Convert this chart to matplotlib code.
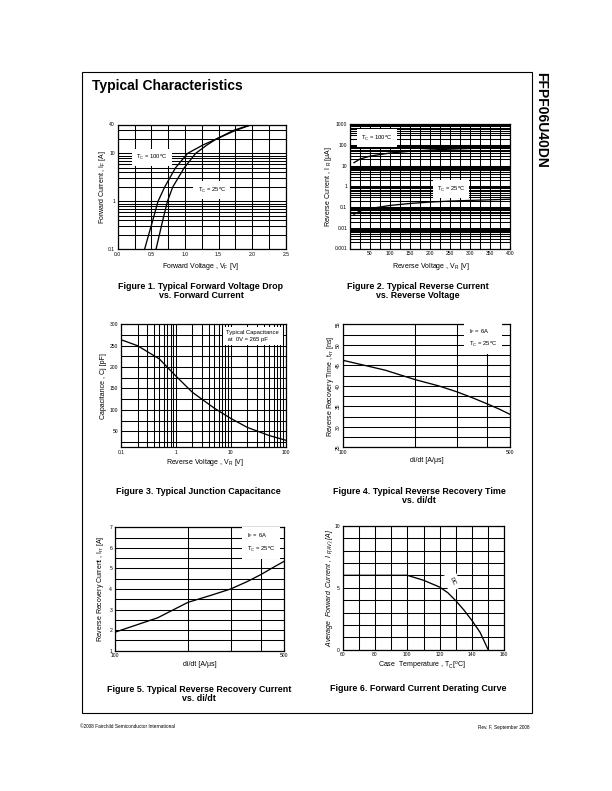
import matplotlib
matplotlib.use('Agg')
import matplotlib.pyplot as plt
from matplotlib.ticker import FixedLocator, MultipleLocator, NullFormatter, LogLocator
from matplotlib.patches import Rectangle

plt.rcParams['font.family'] = ['Liberation Sans', 'DejaVu Sans']
plt.rcParams['mathtext.fontset'] = 'custom'
plt.rcParams['mathtext.rm'] = 'Liberation Sans'
plt.rcParams['mathtext.it'] = 'Liberation Sans:italic'
plt.rcParams['mathtext.bf'] = 'Liberation Sans:bold'
plt.rcParams['mathtext.default'] = 'regular'

# ---------------- data ----------------
# Figure 1: forward voltage vs forward current
fig1_if = [0.1, 0.2, 0.35, 1, 2, 5, 10, 15, 20, 30, 40]
fig1_vf_100 = [0.40, 0.46, 0.51, 0.60, 0.70, 0.86, 1.04, 1.27, 1.47, 1.75, 2.00]
fig1_vf_25 = [0.57, 0.62, 0.66, 0.74, 0.82, 0.99, 1.16, 1.33, 1.47, 1.72, 1.99]
fig1_xticks = [0.0, 0.5, 1.0, 1.5, 2.0, 2.5]
fig1_yticks = [0.1, 1, 10, 40]

# Figure 2: reverse current vs reverse voltage
fig2_vr = [10, 25, 50, 100, 150, 200, 250, 300, 350, 400]
fig2_ir_100 = [14, 21, 29, 41, 50, 57, 63, 68, 73, 78]
fig2_ir_25 = [0.045, 0.065, 0.085, 0.12, 0.15, 0.175, 0.195, 0.21, 0.225, 0.24]
fig2_xticks = [50, 100, 150, 200, 250, 300, 350, 400]
fig2_yticks = [0.001, 0.01, 0.1, 1, 10, 100, 1000]

# Figure 3: junction capacitance
fig3_vr = [0.1, 0.2, 0.5, 1, 2, 5, 10, 20, 50, 100]
fig3_cj = [264, 250, 219, 179, 141, 104, 80, 59, 40, 29]
fig3_xticks = [0.1, 1, 10, 100]
fig3_yticks = [50, 100, 150, 200, 250, 300]

# Figure 4: reverse recovery time vs di/dt
fig4_didt = [100, 150, 200, 250, 300, 350, 400, 450, 500]
fig4_trr = [46.2, 43.8, 41.5, 40.0, 38.5, 37.0, 35.6, 34.3, 33.0]
fig4_yticks = [25, 30, 35, 40, 45, 50, 55]

# Figure 5: reverse recovery current vs di/dt
fig5_didt = [100, 150, 200, 250, 300, 350, 400, 450, 500]
fig5_irr = [1.9, 2.6, 3.35, 3.7, 4.0, 4.35, 4.7, 5.05, 5.35]
fig5_yticks = [1, 2, 3, 4, 5, 6, 7]

# Figure 6: forward current derating
fig6_tc = [60, 100, 110, 120, 125, 130, 135, 140, 145, 150]
fig6_if = [6, 6, 5.6, 5.05, 4.6, 3.95, 3.2, 2.35, 1.4, 0]
fig6_xticks = [60, 80, 100, 120, 140, 160]
fig6_yticks = [0, 5, 10]

didt_ticks = [100, 500]
didt_grid = [200, 300, 400]

# ---------------- layout helpers ----------------
W, H = 612, 791
fig = plt.figure(figsize=(W / 100, H / 100), dpi=100)


def fx(x):
    return x / W


def fy(y):
    return 1 - y / H


def add_ax(l, t, r, b):
    return fig.add_axes([l / W, 1 - b / H, (r - l) / W, (b - t) / H])


GLW = 0.75
CLW = 0.95
TICK_FS = 3.6
LAB_FS = 5.0
CAP_FS = 6.4
ANN_FS = 4.2


def style(ax):
    ax.grid(which='both', color='black', linewidth=GLW)
    ax.tick_params(which='both', length=0, pad=2, labelsize=TICK_FS)
    ax.tick_params(which='minor', labelbottom=False, labelleft=False)
    for s in ax.spines.values():
        s.set_linewidth(0.9)
    ax.xaxis.set_minor_formatter(NullFormatter())
    ax.yaxis.set_minor_formatter(NullFormatter())


def ann(ax, x, y, s, ha='center', ls=1.2, rot=0, pad=0.5):
    ax.text(x, y, s, transform=ax.transAxes, ha=ha, va='center', fontsize=ANN_FS,
            linespacing=ls, rotation=rot, zorder=6,
            bbox=dict(facecolor='white', edgecolor='none', boxstyle='square,pad=%g' % pad))


# page frame
fig.add_artist(Rectangle((fx(81.5), fy(713)), (532 - 81.5) / W, (713 - 71.5) / H,
                         transform=fig.transFigure, fill=False, edgecolor='black', linewidth=0.8))
fig.text(fx(91.5), fy(86), 'Typical Characteristics', fontsize=10, fontweight='bold',
         ha='left', va='center')
fig.text(fx(541), fy(71.5), 'FFPF06U40DN', fontsize=10, fontweight='bold',
         rotation=-90, ha='center', va='top')

# ---------------- Figure 1 ----------------
ax1 = add_ax(117.7, 124.5, 285.7, 249.3)
ax1.set_yscale('log')
ax1.set_xlim(0, 2.5)
ax1.set_ylim(0.1, 40)
ax1.xaxis.set_major_locator(FixedLocator(fig1_xticks))
ax1.xaxis.set_minor_locator(MultipleLocator(0.25))
ax1.set_xticklabels(['%.1f' % v for v in fig1_xticks])
ax1.yaxis.set_major_locator(FixedLocator(fig1_yticks))
ax1.set_yticklabels(['0.1', '1', '10', '40'])
ax1.yaxis.set_minor_locator(LogLocator(base=10, subs=range(2, 10), numticks=20))
style(ax1)
ax1.plot(fig1_vf_100, fig1_if, color='black', lw=CLW)
ax1.plot(fig1_vf_25, fig1_if, color='black', lw=CLW)
ann(ax1, 0.202, 0.734, 'T$_C$ = 100$^o$C', pad=0.7)
ann(ax1, 0.56, 0.475, 'T$_C$ = 25$^o$C', pad=0.7)
fig.text(fx(201), fy(266), 'Forward Voltage , V$_F$ [V]', fontsize=LAB_FS, ha='center', va='center')
fig.text(fx(102), fy(187), 'Forward Current , I$_F$ [A]', fontsize=LAB_FS, ha='center', va='center',
         rotation=90)

# ---------------- Figure 2 ----------------
ax2 = add_ax(350, 124.3, 510, 248.5)
ax2.set_yscale('log')
ax2.set_xlim(0, 400)
ax2.set_ylim(0.001, 1000)
ax2.xaxis.set_major_locator(FixedLocator(fig2_xticks))
ax2.xaxis.set_minor_locator(MultipleLocator(25))
ax2.set_xticklabels([str(v) for v in fig2_xticks])
ax2.yaxis.set_major_locator(FixedLocator(fig2_yticks))
ax2.set_yticklabels(['0.001', '0.01', '0.1', '1', '10', '100', '1000'])
ax2.yaxis.set_minor_locator(LogLocator(base=10, subs=range(2, 10), numticks=30))
style(ax2)
ax2.plot(fig2_vr, fig2_ir_100, color='black', lw=CLW)
ax2.plot(fig2_vr, fig2_ir_25, color='black', lw=CLW)
ann(ax2, 0.169, 0.89, 'T$_C$ = 100$^o$C', pad=0.7)
ann(ax2, 0.631, 0.479, 'T$_C$ = 25$^o$C', pad=0.7)
fig.text(fx(431), fy(266), 'Reverse Voltage , V$_R$ [V]', fontsize=LAB_FS, ha='center', va='center')
fig.text(fx(329), fy(187), 'Reverse Current , I $_R$ [\u03bcA]', fontsize=LAB_FS, ha='center',
         va='center', rotation=90)

# ---------------- Figure 3 ----------------
ax3 = add_ax(121, 324.3, 285.7, 447.3)
ax3.set_xscale('log')
ax3.set_xlim(0.1, 100)
ax3.set_ylim(12.5, 300)
ax3.xaxis.set_major_locator(FixedLocator(fig3_xticks))
ax3.set_xticklabels(['0.1', '1', '10', '100'])
ax3.xaxis.set_minor_locator(LogLocator(base=10, subs=range(2, 10), numticks=20))
ax3.yaxis.set_major_locator(FixedLocator(fig3_yticks))
ax3.set_yticklabels([str(v) for v in fig3_yticks])
ax3.yaxis.set_minor_locator(MultipleLocator(25))
style(ax3)
ax3.plot(fig3_vr, fig3_cj, color='black', lw=CLW)
ann(ax3, 0.64, 0.905, 'Typical Capacitance\n at  0V = 265 pF', ha='left', ls=1.3, pad=0.6)
fig.text(fx(205), fy(463), 'Reverse Voltage , V$_R$ [V]', fontsize=LAB_FS, ha='center', va='center')
fig.text(fx(103), fy(386), 'Capacitance , Cj [pF]', fontsize=LAB_FS, ha='center', va='center',
         rotation=90)

# ---------------- Figure 4 ----------------
ax4 = add_ax(343.3, 324.3, 510.3, 447.3)
ax4.set_xscale('log')
ax4.set_xlim(100, 500)
ax4.set_ylim(25, 55)
ax4.xaxis.set_major_locator(FixedLocator(didt_ticks))
ax4.set_xticklabels([str(v) for v in didt_ticks])
ax4.xaxis.set_minor_locator(FixedLocator(didt_grid))
ax4.yaxis.set_major_locator(FixedLocator(fig4_yticks))
ax4.set_yticklabels([str(v) for v in fig4_yticks], rotation=90, va='center')
ax4.yaxis.set_minor_locator(MultipleLocator(2.5))
style(ax4)
ax4.plot(fig4_didt, fig4_trr, color='black', lw=CLW)
ann(ax4, 0.75, 0.889, 'I$_F$ = 6A\nT$_C$ = 25$^o$C', ha='left', ls=1.7, pad=0.8)
fig.text(fx(427), fy(461), 'di/dt [A/\u03bcs]', fontsize=LAB_FS, ha='center', va='center')
fig.text(fx(330), fy(386), 'Reverse Recovery Time , t$_{rr}$ [ns]', fontsize=LAB_FS, ha='center',
         va='center', rotation=90)

# ---------------- Figure 5 ----------------
ax5 = add_ax(115, 527.3, 284.3, 650.7)
ax5.set_xscale('log')
ax5.set_xlim(100, 500)
ax5.set_ylim(1, 7)
ax5.xaxis.set_major_locator(FixedLocator(didt_ticks))
ax5.set_xticklabels([str(v) for v in didt_ticks])
ax5.xaxis.set_minor_locator(FixedLocator(didt_grid))
ax5.yaxis.set_major_locator(FixedLocator(fig5_yticks))
ax5.set_yticklabels([str(v) for v in fig5_yticks])
ax5.yaxis.set_minor_locator(MultipleLocator(0.5))
style(ax5)
ax5.plot(fig5_didt, fig5_irr, color='black', lw=CLW)
ann(ax5, 0.78, 0.875, 'I$_F$ = 6A\nT$_C$ = 25$^o$C', ha='left', ls=1.7, pad=0.8)
fig.text(fx(200), fy(665), 'di/dt [A/\u03bcs]', fontsize=LAB_FS, ha='center', va='center')
fig.text(fx(101), fy(589), 'Reverse Recovery Current , I$_{rr}$ [A]', fontsize=LAB_FS, ha='center',
         va='center', rotation=90)

# ---------------- Figure 6 ----------------
ax6 = add_ax(342.7, 525.7, 504.3, 649.7)
ax6.set_xlim(60, 160)
ax6.set_ylim(0, 10)
ax6.xaxis.set_major_locator(FixedLocator(fig6_xticks))
ax6.set_xticklabels([str(v) for v in fig6_xticks])
ax6.xaxis.set_minor_locator(MultipleLocator(10))
ax6.yaxis.set_major_locator(FixedLocator(fig6_yticks))
ax6.set_yticklabels([str(v) for v in fig6_yticks])
ax6.yaxis.set_minor_locator(MultipleLocator(1))
style(ax6)
ax6.plot(fig6_tc, fig6_if, color='black', lw=CLW)
ax6.text(127.8, 5.5, 'DC', fontsize=ANN_FS, rotation=-65, ha='center', va='center', zorder=6,
         bbox=dict(facecolor='white', edgecolor='none', boxstyle='square,pad=0.8'))
fig.text(fx(422), fy(666), 'Case  Temperature , T$_C$[$^o$C]', fontsize=LAB_FS, ha='center',
         va='center')
fig.text(fx(330), fy(588), 'Average  Forward  Current , I $_{F(AV)}$ [A]', fontsize=LAB_FS,
         ha='center', va='center', rotation=90, style='italic')

# ---------------- captions ----------------
caps = [
    (201, 286, 'Figure 1. Typical Forward Voltage Drop\nvs. Forward Current'),
    (418, 286, 'Figure 2. Typical Reverse Current\nvs. Reverse Voltage'),
    (198, 491, 'Figure 3. Typical Junction Capacitance'),
    (419, 491, 'Figure 4. Typical Reverse Recovery Time\nvs. di/dt'),
    (199, 689, 'Figure 5. Typical Reverse Recovery Current\nvs. di/dt'),
    (418, 688, 'Figure 6. Forward Current Derating Curve'),
]
for x, y, s in caps:
    fig.text(fx(x), fy(y - 4), s, fontsize=CAP_FS, fontweight='bold', ha='center', va='top',
             linespacing=1.05)

# footer
fig.text(fx(80), fy(727), '\u00a92008 Fairchild Semiconductor International', fontsize=3.4,
         ha='left', va='center')
fig.text(fx(530), fy(727), 'Rev. F, September 2008', fontsize=3.4, ha='right', va='center')

fig.savefig('out.png', dpi=100)
